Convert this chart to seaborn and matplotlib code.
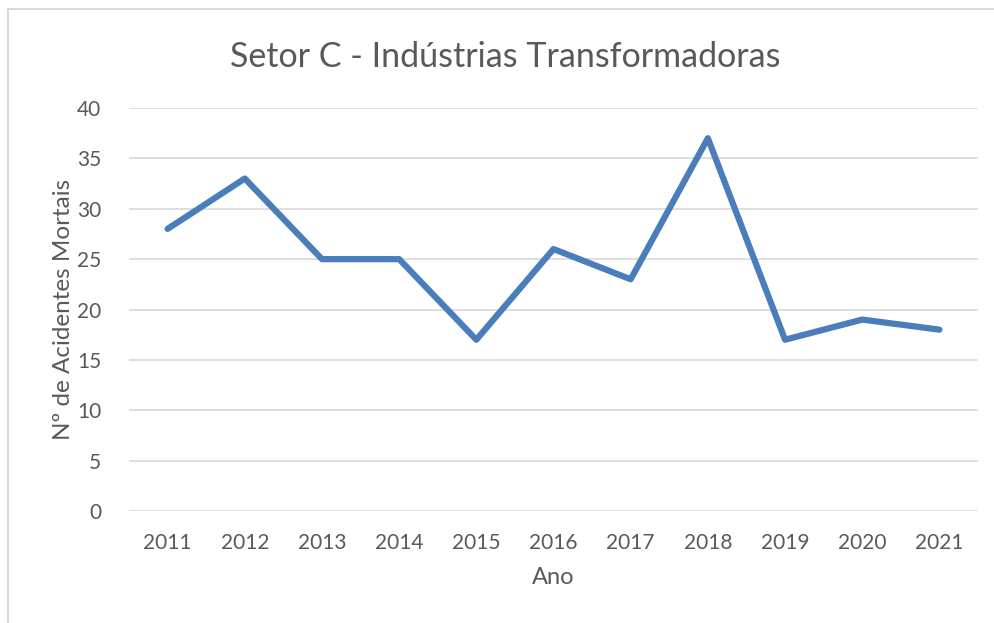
import pandas as pd
import matplotlib.pyplot as plt
import seaborn as sns
from matplotlib.lines import Line2D

# data
anos = ["2011", "2012", "2013", "2014", "2015", "2016", "2017", "2018", "2019", "2020", "2021"]
acidentes = [28, 33, 25, 25, 17, 26, 23, 37, 17, 19, 18]

df = pd.DataFrame({"Ano": anos, "Acidentes": acidentes})

sns.set_style("white")
plt.rcParams["font.family"] = ["Lato", "DejaVu Sans"]

text_color = "#595959"
grid_color = "#d9d9d9"

fig = plt.figure(figsize=(9.95, 6.23), dpi=100)
ax = fig.add_axes([129 / 995, 1 - 511 / 623, (978 - 129) / 995, (511 - 108) / 623])

sns.lineplot(data=df, x="Ano", y="Acidentes", ax=ax, color="#4a7ebb",
             linewidth=4.5, sort=False)

ax.set_xlim(-0.5, len(anos) - 0.5)
ax.set_ylim(0, 40)
ax.set_yticks(range(0, 41, 5))
ax.yaxis.grid(True, color=grid_color, linewidth=1.2)
ax.set_axisbelow(True)
for s in ax.spines.values():
    s.set_visible(False)

ax.tick_params(axis="both", length=0, labelsize=15, colors=text_color)
ax.tick_params(axis="x", pad=16)
ax.tick_params(axis="y", pad=20)

ax.set_xlabel("Ano", fontsize=17, color=text_color, labelpad=10)
ax.set_ylabel("Nº de Acidentes Mortais", fontsize=17.5, color=text_color, labelpad=2)
fig.text(0.508, 0.908, "Setor C - Indústrias Transformadoras", ha="center", va="center",
         fontsize=24.5, color=text_color)

# chart frame (cut at right and bottom)
fig.add_artist(Line2D([8 / 995, 8 / 995], [0, 1 - 9 / 623], transform=fig.transFigure,
                      color=grid_color, linewidth=1.5))
fig.add_artist(Line2D([8 / 995, 1], [1 - 9 / 623, 1 - 9 / 623], transform=fig.transFigure,
                      color=grid_color, linewidth=1.5))

plt.savefig("out.png", dpi=100)
